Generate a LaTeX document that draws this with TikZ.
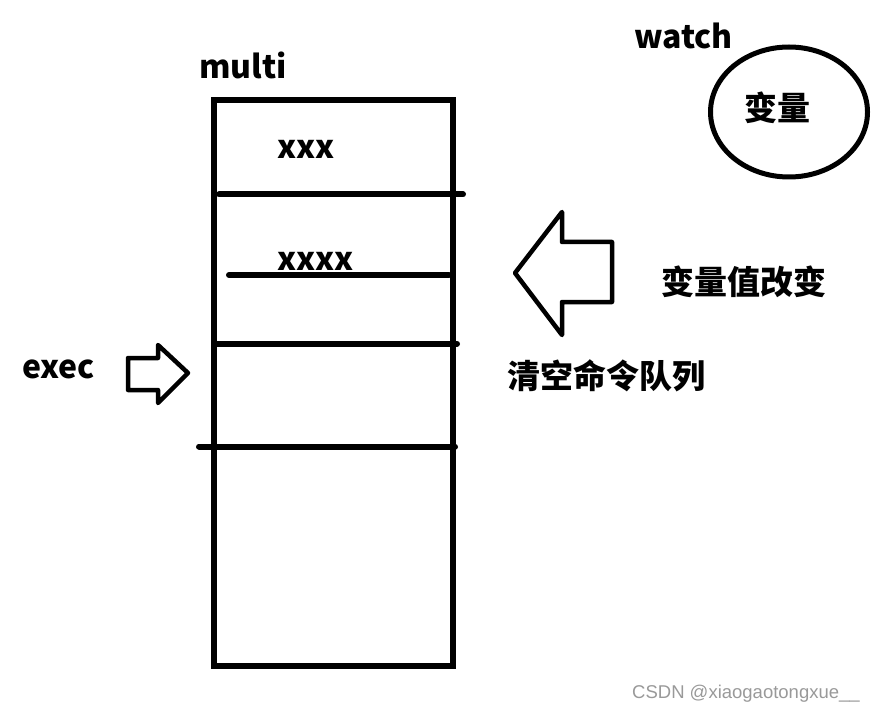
\documentclass[tikz,border=0pt]{standalone}
\usepackage{fontspec}
\setmainfont{Carlito}
\newfontfamily\cjk{Noto Sans CJK SC}
\newfontfamily\wmfont{Liberation Sans}
\usetikzlibrary{shapes.geometric}
\tikzset{
  lbl/.style={font=\cjk\bfseries\fontsize{32}{35}\selectfont, inner sep=0pt, anchor=base west},
  cj/.style={font=\cjk\bfseries\fontsize{33}{36}\selectfont, inner sep=0pt},
  boxline/.style={line width=6pt, line cap=round},
  arrowshape/.style={line width=4.5pt, line join=round},
}
\begin{document}
\begin{tikzpicture}[x=1pt,y=-1pt]
\useasboundingbox (0,0) rectangle (875,711);
% stack box
\draw[line width=6pt] (213.5,100) rectangle (453,665.5);
\draw[boxline] (219,194.5) -- (463,194.5);
\draw[boxline] (229,275) -- (449,275);
\draw[boxline] (214,343.7) -- (457,343.7);
\draw[boxline] (199,446.5) -- (455,446.5);
% labels
\node[lbl] (multi) at (199,79) {multi};
\node[lbl] (xxx) at (277,159) {xxx};
\node[lbl] (xxxx) at (277,270) {xxxx};
\node[lbl] (watch) at (634,49) {watch};
\node[lbl] (exec) at (22,378) {exec};
% watch ellipse
\node[draw, ellipse, line width=5pt, minimum width=157pt, minimum height=130pt, inner sep=0pt] (ellv) at (789,112) {};
\node[cj] (var) at (777,108) {变量};
% big left arrow
\draw[arrowshape] (515,273) -- (562,212) -- (562,242) -- (612,242) -- (612,302) -- (562,302) -- (562,335) -- cycle;
\node[cj] (chg) at (744,282) {变量值改变};
\node[cj] (clr) at (606,376) {清空命令队列};
% exec arrow
\draw[arrowshape] (128,358) -- (158,358) -- (158,345) -- (188,373) -- (158,403) -- (158,390) -- (128,390) -- cycle;
% watermark
\node[font=\wmfont\fontsize{18.5}{20}\selectfont, text=black!40, inner sep=0pt, anchor=base west] (wm) at (632,698) {CSDN @xiaogaotongxue\_\_};
\end{tikzpicture}
\end{document}
